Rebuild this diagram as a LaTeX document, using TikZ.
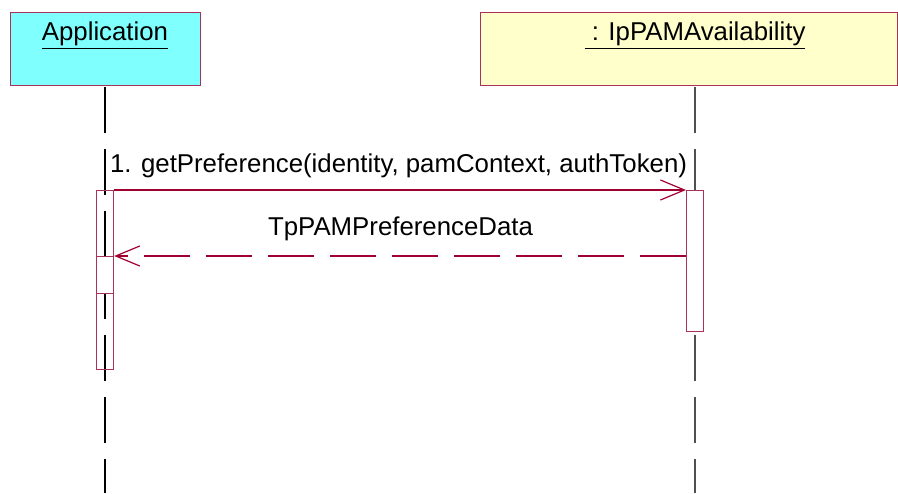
\documentclass[tikz,border=0pt]{standalone}
\usepackage{fontspec}
\setmainfont{Liberation Sans}
\usepackage{xcolor}
\usepackage{tikz}
\usetikzlibrary{
  positioning,
  calc,
  arrows.meta
}
\definecolor{umlred}{RGB}{160,0,50}
\definecolor{umlframe}{RGB}{170,50,90}
\definecolor{appcyan}{RGB}{128,255,255}
\definecolor{objyellow}{RGB}{255,255,204}
\definecolor{lifegray}{RGB}{80,80,80}

\begin{document}
\begin{tikzpicture}[x=0.5pt, y=-0.5pt,
    objbox/.style={draw=umlframe, line width=0.6pt, inner sep=0pt, anchor=north west},
    actbox/.style={draw=umlframe, line width=0.6pt, inner sep=0pt, minimum width=8.5pt, anchor=north west},
    lifeline/.style={line width=0.6pt, dash pattern=on 23pt off 8pt},
    msg/.style={umlred, line width=0.6pt, -{Straight Barb[length=12pt, width=10pt]}},
    ret/.style={msg, dash pattern=on 23pt off 8pt},
    lbl/.style={anchor=base, inner sep=0pt, font=\fontsize{12.9}{15}\selectfont}]
      \useasboundingbox (0,0) rectangle (898,493);

      % Objects
      \node[objbox, fill=appcyan, minimum width=95pt, minimum height=36.5pt] (app) at (9.5,11.5) {};
      \node[objbox, fill=objyellow, minimum width=208.75pt, minimum height=36.5pt] (pam) at (479.5,11.5) {};
      \node[lbl] (appname) at (105,40) {\underline{Application}};
      \node[lbl] (pamname) at (695,40) {\underline{\ : IpPAMAvailability}};

      % Lifelines
      \coordinate (appTop) at (105,87);
      \coordinate (appEnd) at (105,493);
      \coordinate (pamTop) at (695,87);
      \coordinate (pamEnd) at (695,493);
      \draw[lifeline] (appTop) -- (appEnd);
      \draw[lifeline, lifegray] (pamTop) -- (pamEnd);

      % Activations
      \node[actbox, minimum height=89.5pt] (appAct) at (96,190) {};
      \node[actbox, fill=white, minimum height=18.5pt] (appRet) at (96,256) {};
      \node[actbox, fill=white, minimum height=70.5pt] (pamAct) at (686,190) {};

      % Messages
      \draw[msg] (appAct.north east) -- (pamAct.north west);
      \node[lbl] (getpref) at (398.5,172) {1. getPreference(identity, pamContext, authToken)};

      \draw[ret] (pamAct.west |- appRet.north) -- (appRet.north east);
      \node[lbl] (retdata) at (400.5,235) {TpPAMPreferenceData};
\end{tikzpicture}
\end{document}
